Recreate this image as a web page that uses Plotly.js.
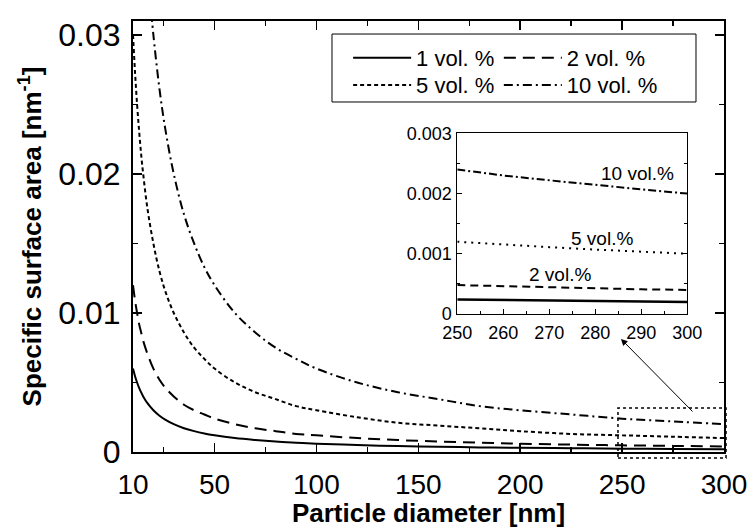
<!DOCTYPE html>
<html><head><meta charset="utf-8">
<script src="https://cdn.plot.ly/plotly-3.0.1.min.js"></script>
<style>html,body{margin:0;padding:0;background:#fff}#chart{width:753px;height:528px}</style>
</head><body><div id="chart"></div>
<script>
// Main chart data
const diam = [10, 11, 12, 13, 14, 15, 17, 20, 23, 26, 30, 35, 40, 45, 50, 60, 70, 80, 90, 100, 120, 140, 160, 180, 200, 225, 250, 275, 300];
const vol1 = [0.0060, 0.00545, 0.0050, 0.00462, 0.00429, 0.0040, 0.00353, 0.0030, 0.00261, 0.00231, 0.0020, 0.00171, 0.0015, 0.00133, 0.0012, 0.0010, 0.00086, 0.00075, 0.00067, 0.0006, 0.0005, 0.00043, 0.00038, 0.00033, 0.0003, 0.00027, 0.00024, 0.00022, 0.0002];
const vol2 = [0.012, 0.0109, 0.010, 0.0092, 0.0086, 0.008, 0.0071, 0.006, 0.0052, 0.0046, 0.004, 0.0034, 0.003, 0.0027, 0.0024, 0.002, 0.0017, 0.0015, 0.0013, 0.0012, 0.001, 0.00086, 0.00075, 0.00067, 0.0006, 0.00053, 0.00048, 0.00044, 0.0004];
const vol5 = [0.030, 0.0273, 0.025, 0.0231, 0.0214, 0.020, 0.0176, 0.015, 0.0130, 0.0115, 0.010, 0.0086, 0.0075, 0.0067, 0.006, 0.005, 0.0043, 0.0038, 0.0033, 0.003, 0.0025, 0.0021, 0.0019, 0.0017, 0.0015, 0.0013, 0.0012, 0.0011, 0.001];
const diam10 = [19, 20, 23, 26, 30, 35, 40, 45, 50, 60, 70, 80, 90, 100, 120, 140, 160, 180, 200, 225, 250, 275, 300];
const vol10 = [0.0316, 0.030, 0.0261, 0.0231, 0.020, 0.0171, 0.015, 0.0133, 0.012, 0.010, 0.0086, 0.0075, 0.0067, 0.006, 0.005, 0.0043, 0.0038, 0.0033, 0.003, 0.0027, 0.0024, 0.0022, 0.002];
const seriesNames = ['1 vol. %', '2 vol. %', '5 vol. %', '10 vol. %'];

// Inset data
const diamInset = [250, 260, 270, 280, 290, 300];
const inset1 = [0.00024, 0.00023, 0.00022, 0.00021, 0.00021, 0.0002];
const inset2 = [0.00048, 0.00046, 0.00044, 0.00043, 0.00041, 0.0004];
const inset5 = [0.0012, 0.00115, 0.00111, 0.00107, 0.00103, 0.001];
const inset10 = [0.0024, 0.0023, 0.00222, 0.00214, 0.00207, 0.002];
const insetLabels = ['10 vol.%', '5 vol.%', '2 vol.%'];

// Tick labels
const xTickVals = [10, 50, 100, 150, 200, 250, 300];
const xTickText = ['10', '50', '100', '150', '200', '250', '300'];
const yTickVals = [0, 0.01, 0.02, 0.03];
const yTickText = ['0', '0.01', '0.02', '0.03'];
const insetYVals = [0, 0.001, 0.002, 0.003];
const insetYText = ['0', '0.001', '0.002', '0.003'];

const FONT = 'Liberation Sans, Arial, sans-serif';
const K = '#000';

const traces = [
  {x: diam, y: vol1, name: seriesNames[0], legend: 'legend', mode: 'lines', line: {color: K, width: 2, shape: 'spline'}},
  {x: diam, y: vol2, name: seriesNames[1], legend: 'legend2', mode: 'lines', line: {color: K, width: 2, dash: '12px,7px', shape: 'spline'}},
  {x: diam, y: vol5, name: seriesNames[2], legend: 'legend3', mode: 'lines', line: {color: K, width: 2, dash: '4px,3px', shape: 'spline'}},
  {x: diam10, y: vol10, name: seriesNames[3], legend: 'legend4', mode: 'lines', line: {color: K, width: 2, dash: '9px,4px,2px,4px', shape: 'spline'}},
  {x: diamInset, y: inset1, xaxis: 'x2', yaxis: 'y2', mode: 'lines', showlegend: false, line: {color: K, width: 2.5}},
  {x: diamInset, y: inset2, xaxis: 'x2', yaxis: 'y2', mode: 'lines', showlegend: false, line: {color: K, width: 2, dash: '8px,5px'}},
  {x: diamInset, y: inset5, xaxis: 'x2', yaxis: 'y2', mode: 'lines', showlegend: false, line: {color: K, width: 2, dash: '2px,5px'}},
  {x: diamInset, y: inset10, xaxis: 'x2', yaxis: 'y2', mode: 'lines', showlegend: false, line: {color: K, width: 2, dash: '8px,3px,2px,3px'}}
];

const legendCommon = {
  orientation: 'v', bgcolor: 'rgba(0,0,0,0)', borderwidth: 0,
  font: {family: FONT, size: 22, color: K}, itemwidth: 58,
  xanchor: 'left', yanchor: 'top', tracegroupgap: 0
};

const layout = {
  width: 753, height: 528,
  margin: {l: 133, r: 29, t: 21, b: 76},
  paper_bgcolor: '#fff', plot_bgcolor: '#fff',
  font: {family: FONT, color: K},
  showlegend: true,
  legend: Object.assign({}, legendCommon, {x: 0.364, y: 0.963}),
  legend2: Object.assign({}, legendCommon, {x: 0.619, y: 0.963}),
  legend3: Object.assign({}, legendCommon, {x: 0.364, y: 0.900}),
  legend4: Object.assign({}, legendCommon, {x: 0.619, y: 0.900}),
  xaxis: {
    range: [10, 300], domain: [0, 1], anchor: 'y',
    tickmode: 'array', tickvals: xTickVals, ticktext: xTickText,
    ticks: 'inside', ticklen: 9, tickwidth: 1.5, tickcolor: K,
    minor: {tickmode: 'linear', tick0: 0, dtick: 25, ticks: 'inside', ticklen: 5, tickwidth: 1.5, tickcolor: K},
    showline: true, linewidth: 2, linecolor: K, mirror: 'ticks',
    showgrid: false, zeroline: false,
    tickfont: {family: FONT, size: 28, color: K}, ticklabelstandoff: 6,
    title: {text: 'Particle diameter [nm]', font: {family: FONT, size: 26, color: K, weight: 'bold'}, standoff: 3}
  },
  yaxis: {
    range: [0, 0.031], domain: [0, 1], anchor: 'x',
    tickmode: 'array', tickvals: yTickVals, ticktext: yTickText,
    ticks: 'inside', ticklen: 9, tickwidth: 1.5, tickcolor: K,
    minor: {tickmode: 'linear', tick0: 0, dtick: 0.005, ticks: 'inside', ticklen: 5, tickwidth: 1.5, tickcolor: K},
    showline: true, linewidth: 2, linecolor: K, mirror: 'ticks',
    showgrid: false, zeroline: false,
    tickfont: {family: FONT, size: 32, color: K}, ticklabelstandoff: 4,
    title: {text: 'Specific surface area [nm<sup>-1</sup>]', font: {family: FONT, size: 26, color: K, weight: 'bold'}, standoff: 9}
  },
  xaxis2: {
    range: [250, 300], domain: [0.5487, 0.9379], anchor: 'y2',
    dtick: 10, tick0: 250,
    ticks: 'inside', ticklen: 5, tickwidth: 1, tickcolor: K,
    minor: {dtick: 5, ticks: 'inside', ticklen: 3, tickwidth: 1, tickcolor: K},
    showline: true, linewidth: 1, linecolor: K, mirror: true,
    showgrid: false, zeroline: false,
    tickfont: {family: FONT, size: 18, color: K}, ticklabelstandoff: 2
  },
  yaxis2: {
    range: [0, 0.003], domain: [0.3202, 0.7394], anchor: 'x2',
    tickmode: 'array', tickvals: insetYVals, ticktext: insetYText,
    ticks: 'inside', ticklen: 5, tickwidth: 1, tickcolor: K,
    minor: {tickmode: 'linear', tick0: 0, dtick: 0.0005, ticks: 'inside', ticklen: 3, tickwidth: 1, tickcolor: K},
    showline: true, linewidth: 1, linecolor: K, mirror: 'ticks',
    showgrid: false, zeroline: false,
    tickfont: {family: FONT, size: 18, color: K}, ticklabelstandoff: 1
  },
  shapes: [
    // legend frame
    {type: 'rect', xref: 'paper', yref: 'paper', x0: 0.3367, x1: 0.9526, y0: 0.8121, y1: 0.9698, line: {color: K, width: 1}},
    // dotted zoom box
    {type: 'rect', xref: 'paper', yref: 'paper', x0: 0.8206, x1: 1.0034, y0: -0.0139, y1: 0.1021, line: {color: K, width: 1.5, dash: '3px,3px'}}
  ],
  annotations: [
    {xref: 'x2', yref: 'y2', x: 289.1, y: 0.00234, text: insetLabels[0], showarrow: false, font: {family: FONT, size: 19, color: K}},
    {xref: 'x2', yref: 'y2', x: 281.5, y: 0.00126, text: insetLabels[1], showarrow: false, font: {family: FONT, size: 19, color: K}},
    {xref: 'x2', yref: 'y2', x: 272.4, y: 0.00065, text: insetLabels[2], showarrow: false, font: {family: FONT, size: 19, color: K}},
    {xref: 'paper', yref: 'paper', x: 0.8257, y: 0.2622, text: '', showarrow: true,
     axref: 'pixel', ayref: 'pixel', ax: 73, ay: 74, arrowhead: 2, arrowsize: 1.3, arrowwidth: 1, arrowcolor: K}
  ]
};

Plotly.newPlot('chart', traces, layout, {staticPlot: true, displayModeBar: false});
</script></body></html>
